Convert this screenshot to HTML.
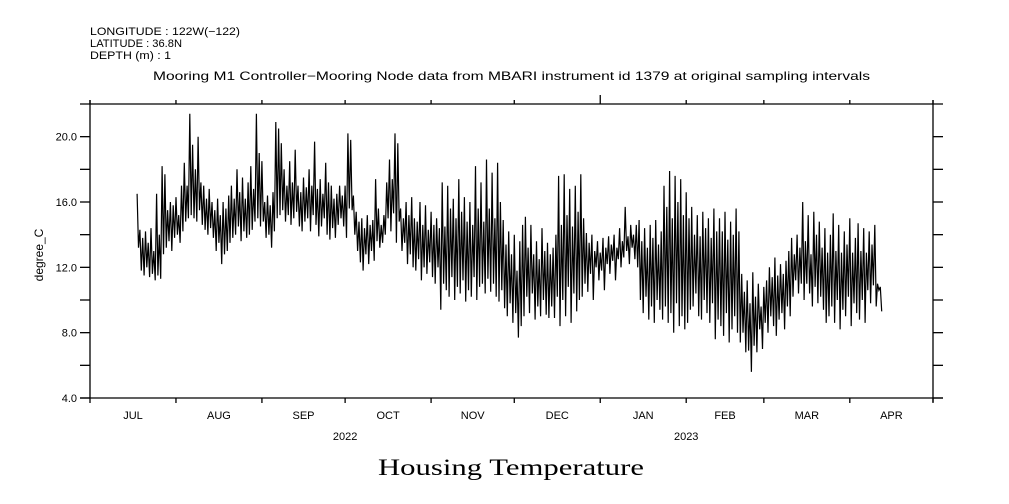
<!DOCTYPE html>
<html><head><meta charset="utf-8"><style>
html,body{margin:0;padding:0;background:#fff;}
svg{display:block;font-family:"Liberation Sans",sans-serif;}
</style></head><body>
<svg id="chart" width="1009" height="504" viewBox="0 0 1009 504" xmlns="http://www.w3.org/2000/svg">
<g font-size="11" fill="#000">
<text x="90" y="35" textLength="150" lengthAdjust="spacingAndGlyphs">LONGITUDE : 122W(−122)</text>
<text x="90" y="47" textLength="92" lengthAdjust="spacingAndGlyphs">LATITUDE : 36.8N</text>
<text x="90" y="59" textLength="81" lengthAdjust="spacingAndGlyphs">DEPTH (m) : 1</text>
</g>
<text x="153" y="80" font-size="12" textLength="717" lengthAdjust="spacingAndGlyphs">Mooring M1 Controller−Mooring Node data from MBARI instrument id 1379 at original sampling intervals</text>
<text x="511" y="475" font-size="23" text-anchor="middle" font-family="'Liberation Serif',serif" textLength="266" lengthAdjust="spacingAndGlyphs">Housing Temperature</text>
<text transform="translate(43,255) rotate(-90)" font-size="12" text-anchor="middle">degree_C</text>
<g id="axes" stroke="#000" stroke-width="1.3" fill="none"></g>
<g id="labels" font-size="11" fill="#000"></g>
<path id="series" fill="none" stroke="#000" stroke-width="1.2"/>
</svg>
<script>
const yTicks = [4, 8, 12, 16, 20];
const yMinor = [6, 10, 14, 18];
const months = ["JUL","AUG","SEP","OCT","NOV","DEC","JAN","FEB","MAR","APR"];
const monthStartDays = [0,31,62,92,123,153,184,215,243,274,304];
const years = ["2022","2023"];
const startDay = 17;
const hi = [16.5,14.3,13.8,14.2,13.5,14.4,13.0,16.5,14.0,18.2,
17.7,15.5,16.0,15.8,16.3,15.2,17.0,18.4,17.0,21.4,
19.5,18.0,20.0,17.2,17.0,16.2,16.8,16.0,15.5,16.2,
15.2,16.0,15.6,16.4,17.0,16.2,18.0,16.6,17.5,16.2,
17.2,18.2,16.8,21.4,19.0,18.5,16.0,16.4,15.8,16.6,
20.9,20.5,19.6,18.0,17.0,18.5,17.2,19.2,17.0,16.6,
17.5,16.9,18.0,17.0,19.7,16.8,17.4,16.5,18.4,17.2,
17.0,16.2,16.5,17.0,16.4,17.0,20.2,19.8,16.4,15.4,
14.8,15.0,14.4,15.2,14.6,14.9,17.4,15.6,14.6,15.2,
17.2,18.6,17.4,20.2,19.6,15.6,15.0,16.0,15.2,16.3,
15.0,14.8,16.0,14.6,15.8,14.3,15.4,14.6,15.0,14.4,
17.2,14.5,17.0,15.6,16.2,15.0,17.4,15.4,16.3,14.8,
16.0,14.6,18.2,15.6,17.2,14.8,18.6,15.6,17.8,15.0,
18.4,16.0,14.9,13.4,14.2,12.8,14.0,11.8,13.6,14.6,
15.1,13.2,14.6,12.8,13.6,12.5,14.4,13.0,13.5,12.8,
13.2,14.0,17.6,14.6,17.7,15.2,16.8,14.5,17.0,15.4,
17.7,15.0,14.1,13.5,14.0,13.0,13.6,12.9,13.8,13.2,
13.9,13.4,14.0,13.2,14.4,13.6,15.7,13.9,14.6,14.0,
14.6,14.9,13.6,14.4,13.2,14.6,13.8,14.9,13.4,14.2,
17.0,15.7,17.9,15.0,17.6,16.0,17.4,15.2,16.6,15.0,
15.7,14.0,15.2,13.9,15.4,14.4,15.0,13.8,15.6,14.2,
15.0,14.2,15.4,13.7,14.8,14.0,15.6,14.2,11.6,10.5,
11.2,9.8,11.7,10.2,11.0,9.6,10.8,11.2,12.0,11.4,
12.6,11.5,12.2,11.6,12.4,13.0,13.8,12.8,14.0,13.2,
16.0,13.6,15.2,12.8,15.4,14.0,14.8,13.2,14.4,12.9,
14.0,15.3,13.0,14.6,12.9,14.2,13.4,15.0,12.9,13.8,
14.7,13.0,14.4,12.9,14.2,13.4,14.6,11.0,10.8];
const lo = [13.2,11.8,11.5,12.0,11.4,11.6,11.2,11.5,11.3,12.8,
13.2,13.6,13.0,13.8,14.0,13.5,14.2,14.8,15.0,15.2,
15.0,14.8,15.5,14.6,14.3,14.0,14.4,13.8,13.0,13.5,
12.2,12.8,13.0,13.5,13.8,14.0,14.5,13.6,14.2,13.8,
14.0,14.3,14.8,15.0,14.5,14.8,13.8,14.0,13.2,14.2,
15.0,15.2,15.5,14.8,15.2,14.6,15.0,15.4,14.5,14.2,
14.8,15.0,14.2,15.2,14.6,13.9,14.5,15.0,14.0,13.7,
14.4,13.8,14.6,15.0,14.5,13.8,15.6,15.5,14.0,13.0,
12.3,11.8,12.8,12.2,13.0,12.4,13.6,13.2,13.5,14.0,
15.0,14.2,15.3,13.5,14.8,13.0,13.5,12.2,12.8,12.0,
11.8,12.5,11.2,12.0,11.6,12.3,11.4,11.0,12.0,9.4,
11.0,10.6,10.2,11.4,10.0,10.8,10.4,11.2,9.9,10.6,
10.2,11.4,10.0,10.8,11.0,10.4,11.3,10.5,11.0,10.2,
9.9,10.6,9.5,9.0,9.8,8.6,9.2,7.7,8.4,9.0,
10.2,9.2,10.4,8.8,9.6,9.0,10.0,9.1,8.9,9.6,
8.9,10.2,8.4,10.0,9.0,10.8,8.6,10.4,9.3,10.0,
10.2,11.0,10.5,11.6,10.0,12.0,11.2,11.8,10.6,12.2,
11.6,12.4,11.2,12.5,12.0,12.6,13.0,12.2,13.2,12.5,
12.0,10.0,9.2,10.2,8.8,9.6,8.6,10.0,9.4,8.8,
9.6,8.6,9.2,8.0,9.8,8.4,9.0,8.2,8.6,9.4,
9.6,10.4,9.0,8.8,10.0,9.2,8.6,9.8,7.6,8.8,
8.4,7.8,9.2,7.4,8.2,9.0,8.0,7.4,8.0,6.8,
6.9,5.6,7.2,6.8,8.2,7.0,8.6,8.0,9.0,8.4,
7.8,8.8,9.2,8.2,9.6,9.0,10.2,11.2,10.4,11.0,
10.0,11.0,10.4,9.6,10.8,9.8,10.2,9.4,8.6,9.0,
9.6,8.6,10.0,8.2,9.4,9.0,10.2,8.4,9.8,9.2,
8.8,10.0,8.6,10.6,9.8,10.9,9.6,10.6,9.3];

const L = 90, R = 933, T = 104, B = 398;
const Y0 = 4, Y1 = 22;
const D0 = 0, D1 = 304;
function xs(d){ return L + (d - D0) / (D1 - D0) * (R - L); }
function ys(v){ return B - (v - Y0) / (Y1 - Y0) * (B - T); }

const NS = "http://www.w3.org/2000/svg";
const axes = document.getElementById("axes");
const labels = document.getElementById("labels");
function line(x1,y1,x2,y2,name){
  const l = document.createElementNS(NS,"line");
  l.setAttribute("x1",x1); l.setAttribute("y1",y1); l.setAttribute("x2",x2); l.setAttribute("y2",y2);
  
  
  axes.appendChild(l);
}
function text(x,y,s,anchor,name){
  const t = document.createElementNS(NS,"text");
  t.setAttribute("x",x); t.setAttribute("y",y); t.setAttribute("text-anchor",anchor);
  t.textContent = s;
  
  
  labels.appendChild(t);
}
line(80,T,943,T,"top-axis-line");
line(80,B,943,B,"bottom-axis-line");
line(L,100,L,B,"left-axis-line");
line(R,T-4,R,B+4,"right-axis-line");
yTicks.concat(yMinor).forEach(v=>{
  line(80,ys(v),L,ys(v),"y-tick-left");
  line(R,ys(v),943,ys(v),"y-tick-right");
});
yTicks.forEach(v=>{ text(77,ys(v)+4,v.toFixed(1),"end","y-tick-label"); });
monthStartDays.forEach((d,i)=>{
  const big = (d===184);
  line(xs(d),B,xs(d),B+5,"x-tick-bottom");
  line(xs(d),T,xs(d),T-(big?9:4),"x-tick-top");
});
months.forEach((m,i)=>{
  const xc = (xs(monthStartDays[i])+xs(monthStartDays[i+1]))/2;
  text(xc,419,m,"middle","x-month-label");
});
text(xs(92),440,years[0],"middle","x-year-label");
text(xs(215),440,years[1],"middle","x-year-label");

let d = "";
for (let i=0;i<hi.length;i++){
  const day = startDay + i;
  d += (i===0?"M":"L") + xs(day).toFixed(1) + "," + ys(hi[i]).toFixed(1);
  d += "L" + xs(day+0.5).toFixed(1) + "," + ys(lo[i]).toFixed(1);
}
document.getElementById("series").setAttribute("d", d);
</script>
</body></html>
